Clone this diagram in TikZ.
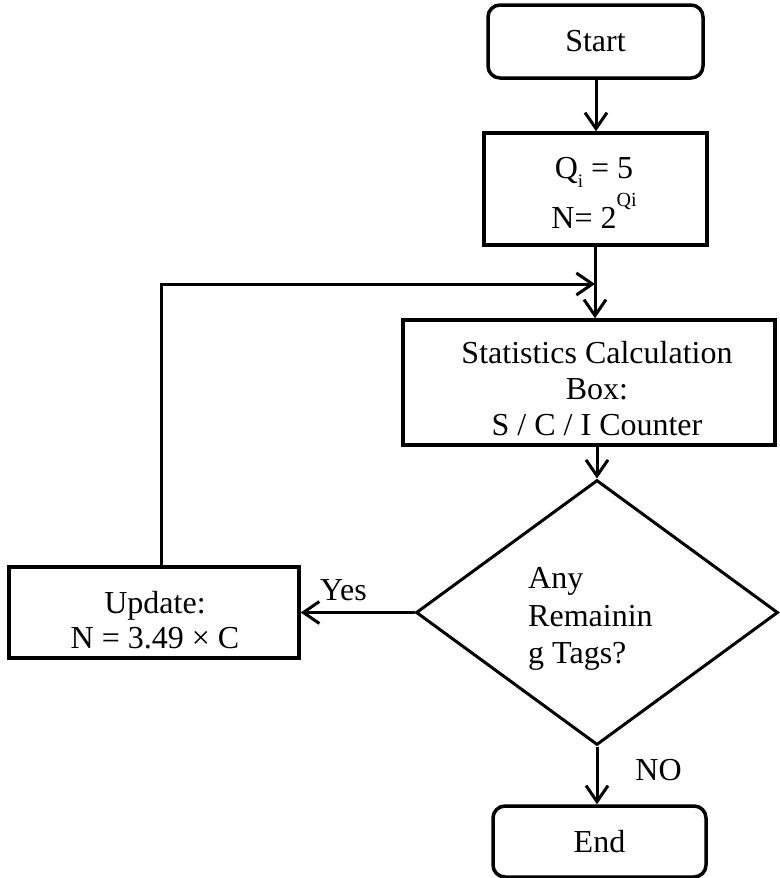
\documentclass[tikz,border=0pt]{standalone}
\usepackage{fontspec}
\setmainfont{Liberation Serif}
\usetikzlibrary{arrows.meta,shapes.geometric}
\begin{document}
\begin{tikzpicture}[x=1pt,y=-1pt,
  every node/.style={font=\fontsize{32}{36}\selectfont},
  box/.style={draw, line width=3.5pt, rectangle, inner sep=0pt, align=center},
  rbox/.style={box, rounded corners=12pt},
  dbox/.style={draw, line width=3pt, diamond, inner sep=0pt},
  lbl/.style={inner sep=0pt},
  arr/.style={line width=3pt, -{Straight Barb[length=16pt,width=22pt,line width=3pt]}},
]
\useasboundingbox (0,0) rectangle (779,878);
% shapes
\node[rbox, minimum width=215pt, minimum height=73pt] (start) at (595.5,41.5) {Start};
\node[box, minimum width=223pt, minimum height=112pt] (q) at (595.5,189) {};
\node[box, minimum width=372pt, minimum height=125pt] (stats) at (589,382.5) {};
\node[dbox, minimum width=362pt, minimum height=265pt] (dec) at (597,612.5) {};
\node[box, minimum width=290pt, minimum height=91pt] (upd) at (154,612.5) {};
\node[rbox, minimum width=213pt, minimum height=71pt] (end) at (599.5,841.5) {End};
% texts
\node[lbl, anchor=base] (qa) at (594,178)
  {Q\raisebox{-9pt}{\fontsize{19}{19}\selectfont i} = 5};
\node[lbl, anchor=base] (qb) at (594,228)
  {N= 2\raisebox{22pt}{\fontsize{20}{20}\selectfont Qi}};
\node[lbl, align=center] (statst) at (597,388.5)
  {Statistics Calculation\\ Box:\\ S / C / I Counter};
\node[lbl, anchor=west, align=left, font=\fontsize{32}{37.5}\selectfont] (dectext) at (528,619)
  {Any\\ Remainin\\ g Tags?};
\node[lbl, align=center, font=\fontsize{32}{35}\selectfont] (updt) at (155,620.5)
  {Update:\\ N = 3.49 × C};
\node[lbl] (yes) at (343.5,590) {Yes};
\node[lbl] (no) at (658.5,770) {NO};
% connectors
\coordinate (loopstart) at (161,567);
\coordinate (join) at (595,284);
\draw[arr] (596,0 |- start.south) -- (596,0 |- q.north);
\draw[line width=3pt] (join |- q.south) -- (join);
\draw[arr] (join) -- (join |- stats.north);
\draw[arr] (loopstart) |- (join);
\draw[arr] (dec.north |- stats.south) -- (dec.north);
\draw[arr] (dec.west) -- (upd.east);
\draw[arr] (dec.south) -- (dec.south |- end.north);
\end{tikzpicture}
\end{document}
